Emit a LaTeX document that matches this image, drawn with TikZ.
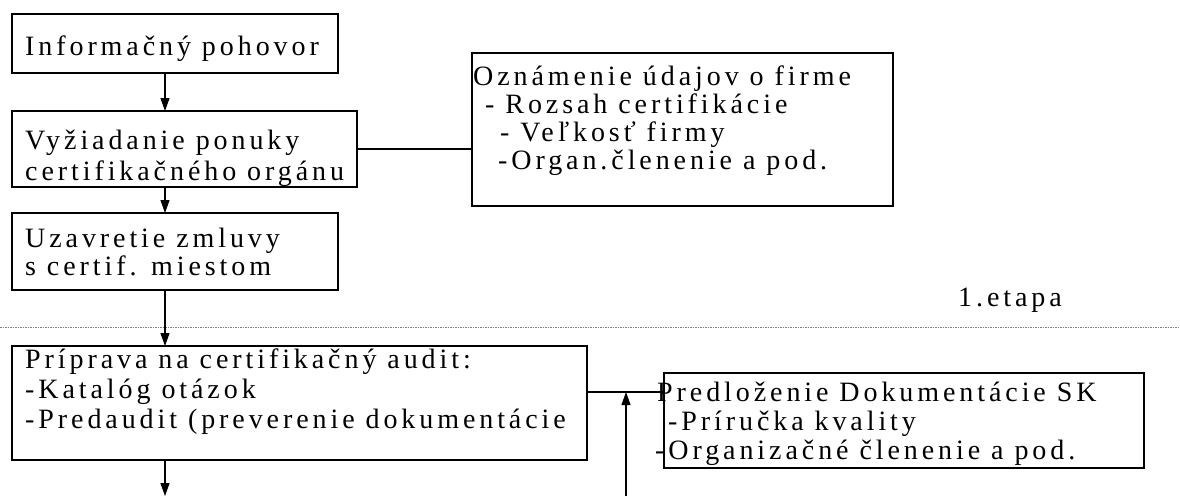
\documentclass[tikz,border=0pt]{standalone}
\usepackage{fontspec}
\setmainfont{Liberation Serif}[LetterSpace=14]
\usetikzlibrary{arrows.meta}
\begin{document}
\begin{tikzpicture}[x=1pt,y=-1pt,
  box/.style={draw,line width=1.1pt,inner sep=0pt,outer sep=0pt},
  txt/.style={anchor=base west,inner sep=0pt,font=\fontsize{28}{30}\selectfont},
  conn/.style={line width=1.1pt},
  arr/.style={line width=1.1pt,-{Triangle[length=13pt,width=9pt]}}]
\useasboundingbox (0,0) rectangle (1180,496);
% boxes
\node[box,minimum width=326pt,minimum height=59pt] (b1) at (175,43.5) {};
\node[box,minimum width=345pt,minimum height=76pt] (b2) at (184.5,149) {};
\node[box,minimum width=326pt,minimum height=77pt] (b3) at (175,251.5) {};
\node[box,minimum width=421pt,minimum height=153pt] (b4) at (682.5,129.5) {};
\node[box,minimum width=575pt,minimum height=114pt] (b5) at (299.5,403) {};
\node[box,minimum width=480pt,minimum height=95pt] (b6) at (904,420.5) {};
% texts
\node[txt] (t1) at (25,55) {Informačný pohovor};
\node[txt] (t2a) at (25,149) {Vyžiadanie ponuky};
\node[txt] (t2b) at (25,180) {certifikačného orgánu};
\node[txt] (t3a) at (25,247) {Uzavretie zmluvy};
\node[txt] (t3b) at (25,275) {s certif. miestom};
\node[txt] (t4a) at (473,85) {Oznámenie údajov o firme};
\node[txt] (t4b) at (485,113) {- Rozsah certifikácie};
\node[txt] (t4c) at (500,141) {- Veľkosť firmy};
\node[txt] (t4d) at (498,169) {-Organ.členenie a pod.};
\node[txt] (t5a) at (25,368) {Príprava na certifikačný audit:};
\node[txt] (t5b) at (25,398) {-Katalóg otázok};
\node[txt] (t5c) at (25,428) {-Predaudit (preverenie dokumentácie};
\node[txt] (t6a) at (657,401) {Predloženie Dokumentácie SK};
\node[txt] (t6b) at (668,430) {-Príručka kvality};
\node[txt] (t6c) at (655,459) {-Organizačné členenie a pod.};
\node[txt] (et) at (958,306) {1.etapa};
% dotted separator
\coordinate (sepL) at (0,327);
\coordinate (sepR) at (1180,327);
\draw[gray,line width=0.6pt,dash pattern=on 1.5pt off 1pt] (sepL) -- (sepR);
% connectors
\coordinate (ax) at (165,0);
\coordinate (ux) at (626,0);
\coordinate (h5) at (0,392);
\coordinate (endA) at (165,496);
\coordinate (endB) at (626,496);
\draw[arr] (b1.south -| ax) -- (b2.north -| ax);
\draw[arr] (b2.south -| ax) -- (b3.north -| ax);
\draw[arr] (b3.south -| ax) -- (b5.north -| ax);
\draw[arr] (b5.south -| ax) -- (endA);
\draw[conn] (b2.east) -- (b2.east -| b4.west);
\draw[conn] (b5.east |- h5) -- (b6.west |- h5);
\draw[arr] (endB) -- (ux |- h5);
\end{tikzpicture}
\end{document}
